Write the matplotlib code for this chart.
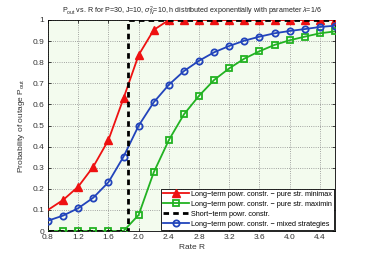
import matplotlib
matplotlib.use("Agg")
import matplotlib.pyplot as plt

rate = [0.8, 1.0, 1.2, 1.4, 1.6, 1.8, 2.0, 2.2, 2.4, 2.6, 2.8, 3.0, 3.2, 3.4, 3.6, 3.8, 4.0, 4.2, 4.4, 4.6]
minimax = [0.10, 0.147, 0.21, 0.305, 0.431, 0.629, 0.834, 0.953, 1.0, 1.0, 1.0, 1.0, 1.0, 1.0, 1.0, 1.0, 1.0, 1.0, 1.0, 1.0]
maximin = [0.0, 0.0, 0.0, 0.0, 0.0, 0.0, 0.076, 0.278, 0.431, 0.553, 0.641, 0.716, 0.771, 0.817, 0.852, 0.882, 0.904, 0.921, 0.937, 0.946]
mixed = [0.049, 0.073, 0.108, 0.158, 0.231, 0.352, 0.499, 0.61, 0.693, 0.758, 0.807, 0.847, 0.877, 0.902, 0.921, 0.937, 0.948, 0.957, 0.967, 0.973]
short_x = [0.8, 1.855, 1.855, 4.6]
short_y = [0.0, 0.0, 1.0, 1.0]
xticks = [0.8, 1.2, 1.6, 2.0, 2.4, 2.8, 3.2, 3.6, 4.0, 4.4]
yticks = [0, 0.1, 0.2, 0.3, 0.4, 0.5, 0.6, 0.7, 0.8, 0.9, 1]

plt.rcParams['font.family'] = ['Liberation Sans', 'DejaVu Sans']
plt.rcParams['mathtext.fontset'] = 'custom'
plt.rcParams['mathtext.rm'] = 'Liberation Sans'
plt.rcParams['mathtext.it'] = 'Liberation Sans:italic'
fig = plt.figure(figsize=(3.71, 2.60), dpi=100)
ax = fig.add_axes([48/371, 1 - 231/260, 287/371, 211/260])
ax.set_facecolor('#f3fbee')

ax.plot(rate, minimax, color='#ee1111', lw=1.3, marker='^', ms=5.5, markevery=list(range(1, len(rate))),
        label='Long\u2212term powr. constr. \u2212 pure str. minimax', zorder=4)
ax.plot(rate, maximin, color='#22b222', lw=1.3, marker='s', ms=4, mfc='none', mew=1.3,
        markevery=list(range(1, len(rate))),
        label='Long\u2212term powr. constr. \u2212 pure str. maximin', zorder=3)
ax.plot(short_x, short_y, color='black', lw=2, ls=(0, (2, 1.5)),
        label='Short\u2212term powr. constr.', zorder=5)
ax.plot(rate, mixed, color='#2244bb', lw=1.3, marker='o', ms=4.5, mfc='none', mew=1.3,
        label='Long\u2212term powr. constr. \u2212 mixed strategies', zorder=4)

ax.set_xlim(0.8, 4.6)
ax.set_ylim(0, 1)
ax.set_xticks(xticks)
ax.set_xticklabels([f'{t:.1f}' for t in xticks])
ax.set_yticks(yticks)
ax.set_yticklabels(['0', '0.1', '0.2', '0.3', '0.4', '0.5', '0.6', '0.7', '0.8', '0.9', '1'])
ax.tick_params(direction='in', labelsize=6, length=2.5, width=0.5, top=True, right=True, pad=2.5,
               labelcolor='#333333')
ax.grid(True, ls=':', color='#888888', lw=0.6)
for s in ax.spines.values():
    s.set_linewidth(0.6)

ax.set_xlabel('Rate R', fontsize=6, labelpad=2, color='#333333')
ax.set_ylabel('Probability of outage P$_{\\mathrm{out}}$', fontsize=6, labelpad=4, color='#333333')
ax.set_title('P$_{\\mathrm{out}}$ vs. R for P=30, J=10, $\\sigma_N^2$=10, h distributed exponentially with parameter $\\lambda$=1/6',
             fontsize=5.1, pad=5, color='#222222')

leg = ax.legend(loc='lower right', fontsize=5.2, frameon=True, fancybox=False, framealpha=1,
                edgecolor='black', handlelength=3.6, borderpad=0.3, labelspacing=0.4,
                handletextpad=0.3, borderaxespad=0.15)
leg.get_frame().set_linewidth(0.6)

fig.savefig('out.png', dpi=100)
